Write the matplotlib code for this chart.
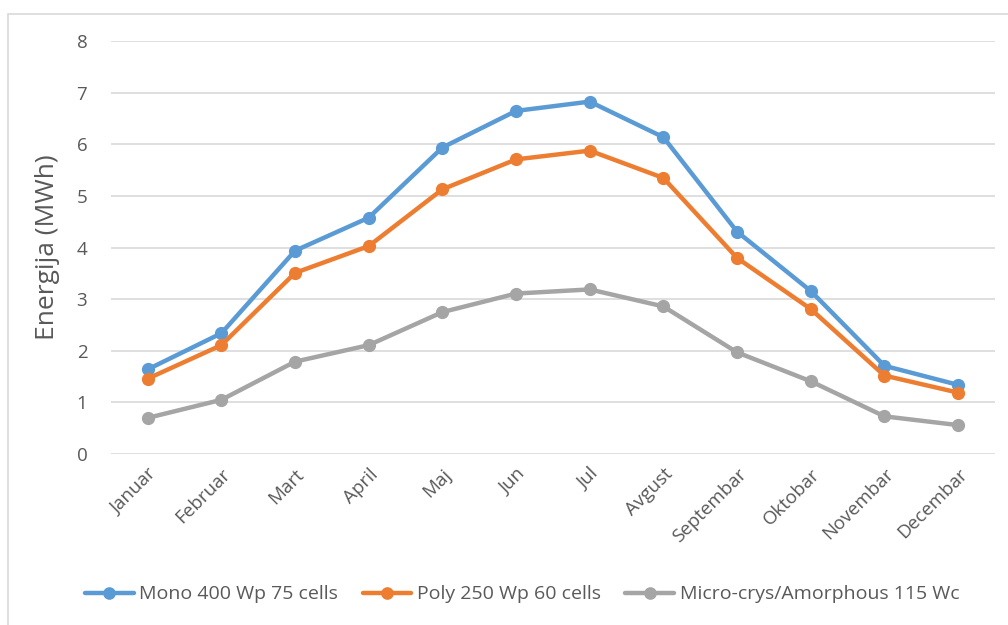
import matplotlib
matplotlib.use("Agg")
import matplotlib.pyplot as plt
from matplotlib.patches import Rectangle

# Mjesečna proizvodnja energije po tipu panela
mjeseci = ['Januar', 'Februar', 'Mart', 'April', 'Maj', 'Jun', 'Jul',
           'Avgust', 'Septembar', 'Oktobar', 'Novembar', 'Decembar']
mono = [1.64, 2.34, 3.94, 4.58, 5.94, 6.65, 6.83, 6.14, 4.31, 3.16, 1.71, 1.34]
poly = [1.46, 2.11, 3.51, 4.03, 5.13, 5.71, 5.88, 5.35, 3.80, 2.81, 1.52, 1.19]
amorf = [0.70, 1.05, 1.79, 2.11, 2.75, 3.11, 3.19, 2.86, 1.97, 1.41, 0.73, 0.56]

serije = [
    ('Mono 400 Wp 75 cells', mono, '#5B9BD5'),
    ('Poly 250 Wp 60 cells', poly, '#ED7D31'),
    ('Micro-crys/Amorphous 115 Wc', amorf, '#A5A5A5'),
]

tekst_boja = '#595959'
plt.rcParams['font.family'] = ['Open Sans', 'DejaVu Sans']

fig = plt.figure(figsize=(10.08, 6.25), dpi=100)
ax = fig.add_axes([0.110, 0.2736, 0.877, 0.6604])

# okvir oko cijelog grafikona
fig.patches.append(Rectangle((8 / 1008, -0.1), 1.2, 1 - 14 / 625 + 0.1,
                             transform=fig.transFigure, fill=False,
                             edgecolor='#D9D9D9', linewidth=1.2))

x = range(len(mjeseci))
for naziv, vrijednosti, boja in serije:
    ax.plot(x, vrijednosti, color=boja, linewidth=3.2, marker='o',
            markersize=8.5, label=naziv, solid_capstyle='round', zorder=3)

ax.set_xlim(-0.5, len(mjeseci) - 0.5)
ax.set_ylim(0, 8)
ax.set_yticks(range(0, 9))
ax.yaxis.grid(True, color='#D9D9D9', linewidth=1.2)
ax.set_axisbelow(True)
for s in ax.spines.values():
    s.set_visible(False)

ax.set_xticks(list(x))
ax.set_xticklabels(mjeseci, rotation=45, ha='right', rotation_mode='anchor')
ax.tick_params(axis='both', length=0, labelsize=13.5, labelcolor=tekst_boja)
ax.tick_params(axis='y', pad=17)
ax.tick_params(axis='x', pad=8)

ax.set_ylabel('Energija (MWh)', fontsize=19, color=tekst_boja, labelpad=12)

leg = fig.legend(loc='center', bbox_to_anchor=(0.518, 0.049), ncol=3,
                 frameon=False, fontsize=14, handlelength=2.5,
                 handletextpad=0.3, columnspacing=1.25, markerscale=0.95)
for t in leg.get_texts():
    t.set_color(tekst_boja)

fig.savefig('out.png', dpi=100)
